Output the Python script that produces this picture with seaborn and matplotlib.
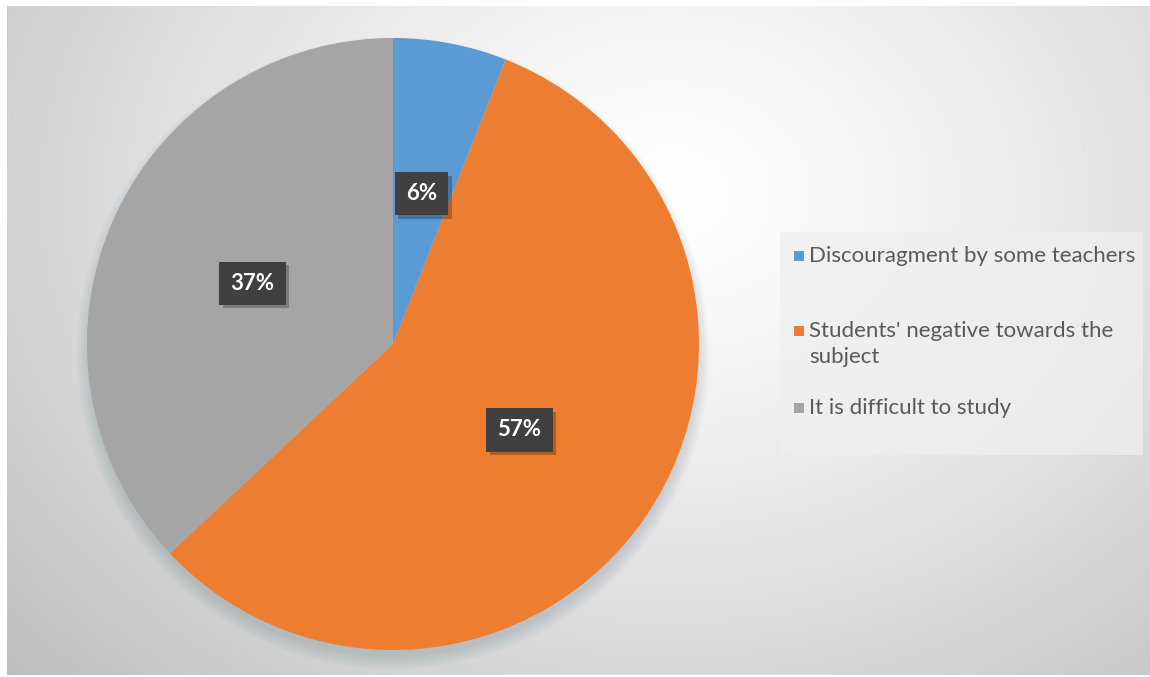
import numpy as np
import matplotlib
matplotlib.use("Agg")
import matplotlib.pyplot as plt
import matplotlib.patheffects as pe
import seaborn as sns
from matplotlib.patches import Circle, Rectangle

# Survey responses: reasons given for avoiding the subject
categories = ["Discouragment by some teachers",
              "Students' negative towards the subject",
              "It is difficult to study"]
legend_labels = ["Discouragment by some teachers",
                 "Students' negative towards the\nsubject",
                 "It is difficult to study"]
shares = [6, 57, 37]

sns.set_theme(style="white")
plt.rcParams["font.family"] = ["Lato", "DejaVu Sans"]
colors = ["#5B9BD5", "#ED7D31", "#A5A5A5"]

W, H = 1150, 677
fig = plt.figure(figsize=(W / 100, H / 100), dpi=100, facecolor="white")

# Radial gradient backdrop of the chart area
bg = fig.add_axes([7 / W, 2 / H, (W - 7) / W, (H - 8) / H], zorder=0)
gx, gy = np.meshgrid(np.linspace(0, 1, 600), np.linspace(0, 1, 400))
d = np.sqrt(((gx - 0.58) / 0.70) ** 2 + ((gy - 0.72) / 0.95) ** 2)
shade = 1.0 - 0.22 * np.clip(d, 0, 1.3) ** 1.3
bg.imshow(np.dstack([shade] * 3), extent=[0, 1, 0, 1], origin="lower",
          aspect="auto", interpolation="bilinear")
bg.set_axis_off()

# Pie axes
R = 306
cx, cy = 393, H - 344
ax = fig.add_axes([(cx - R) / W, (cy - R) / H, 2 * R / W, 2 * R / H], zorder=2)

# soft drop shadow, offset below the pie
for k in range(12):
    ax.add_patch(Circle((0, -0.03), 0.99 + 0.004 * k, color="#6f8193",
                        alpha=0.025, lw=0, zorder=0, clip_on=False))

wedges, _ = ax.pie(shares, colors=colors, startangle=90, counterclock=False,
                   radius=1.0, wedgeprops=dict(linewidth=0, clip_on=False))
for w in wedges:
    w.set_zorder(2)
ax.set_xlim(-1, 1)
ax.set_ylim(-1, 1)
ax.set_aspect("equal")
ax.set_axis_off()

# percentage labels in dark boxes at half the radius
total = sum(shares)
start = 90.0
for val in shares:
    mid = np.deg2rad(start - 360.0 * val / total / 2)
    start -= 360.0 * val / total
    x, y = 0.5 * np.cos(mid), 0.5 * np.sin(mid)
    t = ax.text(x, y, f"{val}%", ha="center", va="center", fontsize=16,
                fontweight="bold", color="white", zorder=4,
                bbox=dict(boxstyle="square,pad=0.5", fc="#404040", ec="none"))
    t.get_bbox_patch().set_path_effects(
        [pe.SimplePatchShadow(offset=(2.5, -2.5), shadow_rgbFace="black", alpha=0.25),
         pe.Normal()])

# Legend panel on the right
lg = fig.add_axes([0, 0, 1, 1], zorder=3)
lg.set_xlim(0, W)
lg.set_ylim(H, 0)
lg.set_axis_off()
lg.add_patch(Rectangle((780, 232), 363, 223, fc="#efefef", ec="none", alpha=0.7))
rows = [256, 331, 408]
for lab, col, yy in zip(legend_labels, colors, rows):
    lg.add_patch(Rectangle((794, yy - 5), 10, 10, fc=col, ec="none"))
    lg.text(809, yy - 10, lab, ha="left", va="top", fontsize=16,
            color="#595959", linespacing=1.38)

fig.savefig("out.png", dpi=100, facecolor="white")
